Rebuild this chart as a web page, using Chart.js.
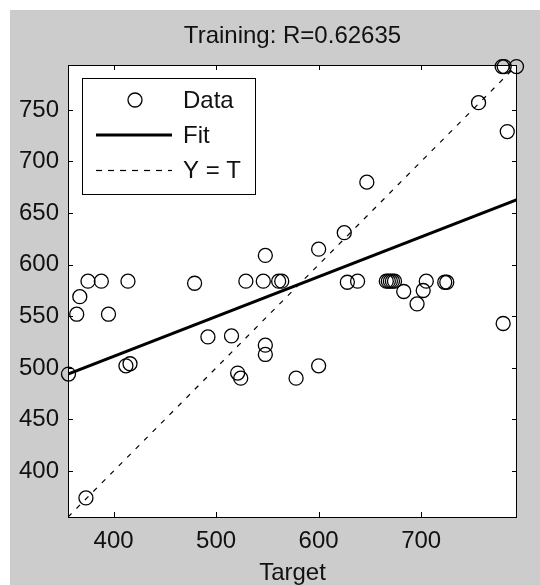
<!DOCTYPE html>
<html>
<head>
<meta charset="utf-8">
<title>Training regression</title>
<script src="https://cdn.jsdelivr.net/npm/chart.js@4.4.0/dist/chart.umd.min.js"></script>
<style>
  html, body { margin: 0; padding: 0; background: #fff; }
  #wrap { width: 540px; height: 585px; }
</style>
</head>
<body>
<div id="wrap"><canvas id="regChart" width="540" height="585"></canvas></div>
<script>
// values
const targets = [356, 373, 367, 364, 375, 388, 414, 395, 412, 416,
  479, 492, 515, 521, 524, 529, 546, 561, 564, 548,
  548, 548, 578, 600, 600, 625, 647, 628, 638, 666,
  668, 670, 672, 674, 683, 705, 702, 696, 723, 725,
  780, 756, 784, 779, 781, 793];
const outputs = [494, 374, 569, 552, 584, 584, 584, 552, 502, 504,
  582, 530, 531, 495, 490, 584, 584, 584, 584, 609,
  522, 513, 490, 502, 615, 631, 680, 583, 584, 584,
  584, 584, 584, 584, 574, 584, 575, 562, 583, 583,
  543, 757, 729, 792, 792, 792];
const fitX = [355.5, 793.5];
const fitY = [494, 663];
const identX = [355.5, 793.5];
const axisMin = 355.5;
const axisMax = 793.5;
const xTicks = [400, 500, 600, 700];
const yTicks = [400, 450, 500, 550, 600, 650, 700, 750];
const titleText = 'Training: R=0.62635';
const xTitle = 'Target';
const legendNames = ['Data', 'Fit', 'Y = T'];

const fontFam = '"Liberation Sans", Arial, Helvetica, sans-serif';
const ink = '#111';

const scatterData = targets.map((t, i) => ({ x: t, y: outputs[i] }));
const fitData = fitX.map((x, i) => ({ x: x, y: fitY[i] }));
const identData = identX.map(x => ({ x: x, y: x }));

// grey figure, white axes, box, inward ticks and the legend
const matlabLook = {
  id: 'matlabLook',
  beforeDraw(chart) {
    const { ctx, chartArea } = chart;
    ctx.save();
    ctx.fillStyle = '#fff';
    ctx.fillRect(0, 0, chart.width, chart.height);
    ctx.fillStyle = '#cccccc';
    ctx.fillRect(10, 10, chart.width - 10, chart.height - 10);
    ctx.fillStyle = '#fff';
    ctx.fillRect(chartArea.left, chartArea.top, chartArea.right - chartArea.left, chartArea.bottom - chartArea.top);
    ctx.restore();
  },
  afterDatasetsDraw(chart) {
    const { ctx, chartArea } = chart;
    const xs = chart.scales.x, ys = chart.scales.y;
    const tl = 5;
    ctx.save();
    ctx.strokeStyle = '#000';
    ctx.lineWidth = 1;
    ctx.beginPath();
    xTicks.forEach(v => {
      const px = Math.round(xs.getPixelForValue(v)) + 0.5;
      ctx.moveTo(px, chartArea.bottom);
      ctx.lineTo(px, chartArea.bottom - tl);
      ctx.moveTo(px, chartArea.top);
      ctx.lineTo(px, chartArea.top + tl);
    });
    yTicks.forEach(v => {
      const py = Math.round(ys.getPixelForValue(v)) + 0.5;
      ctx.moveTo(chartArea.left, py);
      ctx.lineTo(chartArea.left + tl, py);
      ctx.moveTo(chartArea.right, py);
      ctx.lineTo(chartArea.right - tl, py);
    });
    ctx.stroke();
    ctx.strokeRect(chartArea.left + 0.5, chartArea.top + 0.5,
      chartArea.right - chartArea.left - 1, chartArea.bottom - chartArea.top);

    // legend
    const lx = chartArea.left + 14, ly = chartArea.top + 13;
    const lw = 173, lh = 116;
    ctx.fillStyle = '#fff';
    ctx.fillRect(lx, ly, lw, lh);
    ctx.strokeRect(lx + 0.5, ly + 0.5, lw, lh);
    const rows = [ly + 22, ly + 57, ly + 92];
    const symL = lx + 14, symR = lx + 90, symC = lx + 53;
    ctx.lineWidth = 1.3;
    ctx.beginPath();
    ctx.arc(symC, rows[0], 7, 0, Math.PI * 2);
    ctx.stroke();
    ctx.lineWidth = 3;
    ctx.beginPath();
    ctx.moveTo(symL, rows[1]);
    ctx.lineTo(symR, rows[1]);
    ctx.stroke();
    ctx.lineWidth = 1.2;
    ctx.setLineDash([6, 6]);
    ctx.beginPath();
    ctx.moveTo(symL, rows[2] + 0.5);
    ctx.lineTo(symR, rows[2] + 0.5);
    ctx.stroke();
    ctx.setLineDash([]);
    ctx.fillStyle = ink;
    ctx.font = '24px ' + fontFam;
    ctx.textAlign = 'left';
    ctx.textBaseline = 'middle';
    legendNames.forEach((name, i) => ctx.fillText(name, lx + 101, rows[i] + 1));
    ctx.restore();
  }
};

new Chart(document.getElementById('regChart'), {
  type: 'scatter',
  data: {
    datasets: [
      {
        label: legendNames[0],
        data: scatterData,
        borderColor: '#000',
        backgroundColor: 'rgba(0,0,0,0)',
        pointRadius: 7,
        pointBorderWidth: 1.3,
        showLine: false,
        clip: false
      },
      {
        type: 'line',
        label: legendNames[1],
        data: fitData,
        borderColor: '#000',
        borderWidth: 3,
        pointRadius: 0,
        fill: false
      },
      {
        type: 'line',
        label: legendNames[2],
        data: identData,
        borderColor: '#000',
        borderWidth: 1.2,
        borderDash: [5, 7],
        pointRadius: 0,
        fill: false
      }
    ]
  },
  options: {
    responsive: false,
    animation: false,
    devicePixelRatio: 1,
    layout: { padding: { top: 10, left: 10, right: 23, bottom: 0 } },
    plugins: {
      legend: { display: false },
      tooltip: { enabled: false },
      title: {
        display: true,
        fullSize: false,
        text: titleText,
        color: ink,
        font: { family: fontFam, size: 24, weight: 'normal', lineHeight: 1.2 },
        padding: { top: 11.6, bottom: 14.6 }
      }
    },
    scales: {
      x: {
        type: 'linear',
        position: 'bottom',
        min: axisMin,
        max: axisMax,
        afterBuildTicks: scale => { scale.ticks = xTicks.map(v => ({ value: v })); },
        afterFit: scale => { scale.height = 68; },
        grid: { display: false, drawTicks: false },
        border: { display: false },
        ticks: {
          color: ink,
          padding: 10,
          maxRotation: 0,
          font: { family: fontFam, size: 24, lineHeight: 1.2 }
        },
        title: {
          display: true,
          text: xTitle,
          color: ink,
          font: { family: fontFam, size: 24, lineHeight: 1 },
          padding: { top: 0, bottom: 0 }
        }
      },
      y: {
        type: 'linear',
        min: axisMin,
        max: axisMax,
        afterBuildTicks: scale => { scale.ticks = yTicks.map(v => ({ value: v })); },
        afterFit: scale => { scale.width = 58; },
        grid: { display: false, drawTicks: false },
        border: { display: false },
        ticks: {
          color: ink,
          padding: 9,
          font: { family: fontFam, size: 24, lineHeight: 1.2 }
        }
      }
    }
  },
  plugins: [matlabLook]
});
</script>
</body>
</html>
